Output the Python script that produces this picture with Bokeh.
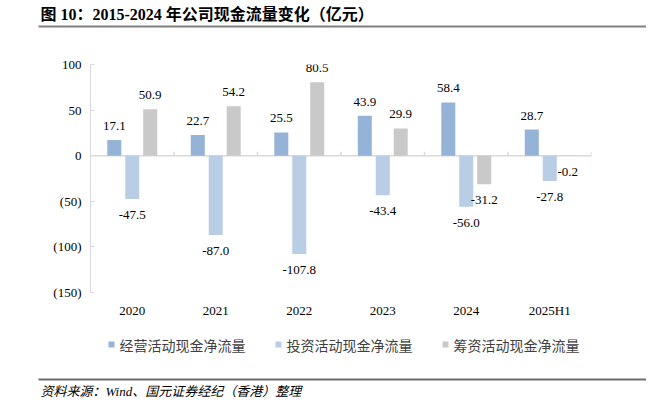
from bokeh.plotting import figure
from bokeh.models import (ColumnDataSource, FixedTicker, CustomJSTickFormatter,
                          Range1d, FactorRange, Span)
from bokeh.transform import dodge
from bokeh.layouts import column, row
from bokeh.core.properties import value
from bokeh.embed import file_html
from bokeh.resources import INLINE

# ---------------- data ----------------
categories = ["2020", "2021", "2022", "2023", "2024", "2025H1"]
operating = [17.1, 22.7, 25.5, 43.9, 58.4, 28.7]
investing = [-47.5, -87.0, -107.8, -43.4, -56.0, -27.8]
financing = [50.9, 54.2, 80.5, 29.9, -31.2, -0.2]
series_names = ["经营活动现金净流量", "投资活动现金净流量", "筹资活动现金净流量"]
y_ticks = [-150, -100, -50, 0, 50, 100]
title_text = "图 10：2015-2024 年公司现金流量变化（亿元）"
source_text = "资料来源：Wind、国元证券经纪（香港）整理"

colors = ["#95B3D7", "#B9CDE5", "#C9C9C9"]
offsets = [-0.215, 0.0, 0.215]
series = [operating, investing, financing]

W = 646
SERIF = value("Liberation Serif, Noto Sans CJK SC")
CJK = value("Noto Sans CJK SC")


def blank(h):
    f = figure(width=W, height=h, x_range=Range1d(0, W), y_range=Range1d(0, h),
               output_backend="svg", toolbar_location=None,
               x_axis_location=None, y_axis_location=None,
               min_border=0, outline_line_color=None)
    f.grid.visible = False
    return f


# ---------------- header ----------------
hdr = blank(38)
hdr.text(x=[40], y=[24], text=[title_text], text_font=SERIF,
         text_font_style="bold", text_font_size="16px", text_color="#000000",
         text_baseline="middle", text_align="left")
hdr.segment(x0=[38], y0=[12], x1=[W], y1=[12], line_color="#808080", line_width=2)

# ---------------- main chart ----------------
p = figure(width=W, height=284, x_range=FactorRange(*categories),
           y_range=Range1d(-150, 100),
           output_backend="svg", toolbar_location=None,
           min_border_left=90, min_border_right=55,
           min_border_top=26, min_border_bottom=30,
           outline_line_color=None)
p.grid.visible = False

# zero line and category boundary ticks
p.add_layout(Span(location=0, dimension="width", line_color="#D9D9D9",
                  line_width=1.5, level="underlay"))
tick_src = ColumnDataSource(dict(cat=categories, y0=[0] * len(categories),
                                 y1=[4.4] * len(categories)))
p.segment(x0=dodge("cat", 0.5, range=p.x_range), y0="y0",
          x1=dodge("cat", 0.5, range=p.x_range), y1="y1",
          source=tick_src, line_color="#D9D9D9", line_width=1.5, level="underlay")

for vals, col, off in zip(series, colors, offsets):
    src = ColumnDataSource(dict(
        cat=categories, val=vals,
        lab=[f"{v:.1f}" for v in vals],
        yoff=[-14 if v >= 0 else 16 for v in vals],
    ))
    p.vbar(x=dodge("cat", off, range=p.x_range), top="val", bottom=0,
           width=0.168, source=src, fill_color=col, line_color=None)
    p.text(x=dodge("cat", off, range=p.x_range), y="val", text="lab",
           y_offset="yoff", source=src, text_font=SERIF,
           text_font_size="13px", text_color="#000000",
           text_align="center", text_baseline="middle")

# y axis
ya = p.yaxis[0]
ya.ticker = FixedTicker(ticks=y_ticks)
ya.formatter = CustomJSTickFormatter(
    code="return tick < 0 ? '(' + Math.abs(tick) + ')' : tick.toString();")
ya.axis_line_color = "#D9D9D9"
ya.major_tick_line_color = "#D9D9D9"
ya.major_tick_in = 4
ya.major_tick_out = 0
ya.minor_tick_line_color = None
ya.major_label_standoff = 9
ya.major_label_text_font = "Liberation Serif"
ya.major_label_text_font_size = "13px"
ya.major_label_text_color = "#000000"

# category label axis (bottom)
xa = p.xaxis[0]
xa.axis_line_color = None
xa.major_tick_line_color = None
xa.major_tick_out = 0
xa.major_tick_in = 0
xa.major_label_standoff = 10
xa.major_label_text_font = "Liberation Serif"
xa.major_label_text_font_size = "13px"
xa.major_label_text_color = "#000000"

# ---------------- footer (legend + source) ----------------
ftr = blank(76)
lx = [111 + i * 167 for i in range(len(series_names))]
ftr.scatter(x=lx, y=[54] * 3, marker="square", size=6,
            fill_color=colors, line_color=None)
ftr.text(x=[v + 8 for v in lx], y=[54] * 3, text=series_names, text_font=CJK,
         text_font_size="14px", text_color="#404040",
         text_baseline="middle", text_align="left")
ftr.segment(x0=[38], y0=[19], x1=[W], y1=[19], line_color="#6B6B6B", line_width=2)
ftr.text(x=[40], y=[7], text=[source_text], text_font=SERIF,
         text_font_style="italic", text_font_size="13px", text_color="#000000",
         text_baseline="middle", text_align="left")

layout = column(row(hdr), p, column(ftr), spacing=0)
open("out.html", "w").write(file_html(layout, INLINE))
